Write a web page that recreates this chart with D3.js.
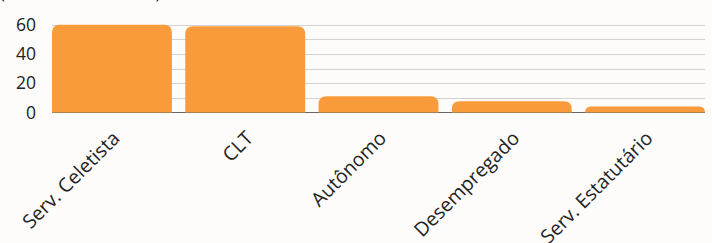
<!DOCTYPE html>
<html>
<head>
<meta charset="utf-8">
<script src="https://cdn.jsdelivr.net/npm/d3@7"></script>
<style>
  body { margin: 0; background: #fdfcfb; }
  svg { display: block; font-family: "Open Sans", sans-serif; }
</style>
</head>
<body>
<div class="chart"></div>
<script>
var width = 712, height = 243;

var categories = ['Serv. Celetista', 'CLT', 'Autônomo', 'Desempregado', 'Serv. Estatutário'];
var values = [59.8, 58.8, 11.1, 7.7, 4.1];
var yTicks = [0, 20, 40, 60];
var gridTicks = [0, 10, 20, 30, 40, 50, 60];
var titleText = '(Percentual do total)';

var plotLeft = 52, plotRight = 705, plotTop = 24.5, plotBottom = 112.5;

var svg = d3.select('.chart').append('svg')
  .attr('width', width)
  .attr('height', height);

var x = d3.scaleBand()
  .domain(categories)
  .range([plotLeft, plotRight])
  .paddingInner(0.1)
  .paddingOuter(0);

var y = d3.scaleLinear()
  .domain([0, 60])
  .range([plotBottom, plotTop]);

// title, mostly above the visible area
svg.append('text')
  .attr('x', 0)
  .attr('y', -1)
  .attr('font-size', 17)
  .attr('fill', '#222')
  .text(titleText);

// grid
svg.append('g').selectAll('line')
  .data(gridTicks.filter(function(d) { return d > 0; }))
  .enter().append('line')
  .attr('x1', plotLeft)
  .attr('x2', plotRight)
  .attr('y1', function(d) { return Math.round(y(d)) + 0.5; })
  .attr('y2', function(d) { return Math.round(y(d)) + 0.5; })
  .attr('stroke', '#d4d2d0')
  .attr('stroke-width', 1);

// y axis labels
var yAxis = d3.axisLeft(y).tickValues(yTicks).tickSize(0).tickPadding(0);
svg.append('g')
  .attr('transform', 'translate(36,0)')
  .call(yAxis)
  .call(function(g) { g.select('.domain').remove(); })
  .selectAll('text')
  .attr('font-size', 17.5)
  .attr('font-family', '"Open Sans", sans-serif')
  .attr('fill', '#222');

// baseline
svg.append('line')
  .attr('x1', plotLeft)
  .attr('x2', plotRight)
  .attr('y1', y(0))
  .attr('y2', y(0))
  .attr('stroke', '#666')
  .attr('stroke-width', 1);

// bars with rounded top corners
var r = 8;
svg.append('g').selectAll('path')
  .data(values)
  .enter().append('path')
  .attr('fill', '#f99b3b')
  .attr('d', function(d, i) {
    var x0 = x(categories[i]), w = x.bandwidth();
    var y0 = y(d), yb = y(0);
    var rr = Math.min(r, (yb - y0));
    return 'M' + x0 + ',' + yb +
      'V' + (y0 + rr) +
      'Q' + x0 + ',' + y0 + ' ' + (x0 + rr) + ',' + y0 +
      'H' + (x0 + w - rr) +
      'Q' + (x0 + w) + ',' + y0 + ' ' + (x0 + w) + ',' + (y0 + rr) +
      'V' + yb + 'Z';
  });

// x labels rotated
var xAxis = d3.axisBottom(x).tickSize(0).tickPadding(0);
svg.append('g')
  .attr('transform', 'translate(0,' + y(0) + ')')
  .call(xAxis)
  .call(function(g) { g.select('.domain').remove(); })
  .selectAll('text')
  .attr('font-size', 19.5)
  .attr('font-family', '"Open Sans", sans-serif')
  .attr('fill', '#222')
  .attr('text-anchor', 'end')
  .attr('dy', 0)
  .attr('y', 0)
  .attr('transform', 'translate(9,27) rotate(-45)');
</script>
</body>
</html>
